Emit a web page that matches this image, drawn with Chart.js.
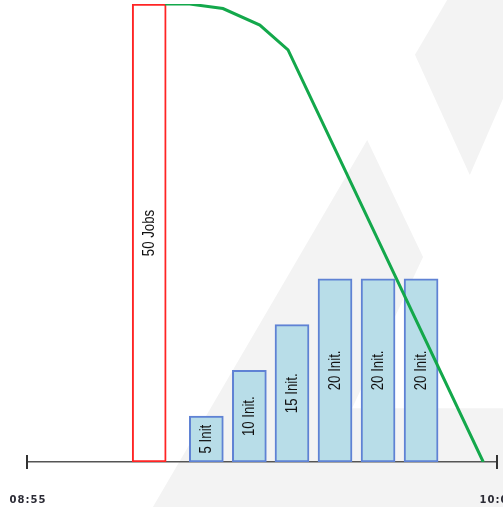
<!DOCTYPE html>
<html>
<head>
<meta charset="utf-8">
<script src="https://cdn.jsdelivr.net/npm/chart.js@4"></script>
<style>
  html, body { margin: 0; padding: 0; background: #fff; }
  #wrap { width: 503px; height: 507px; }
</style>
</head>
<body>
<div id="wrap"><canvas id="jobsChart" width="503" height="507"></canvas></div>
<script>
// minutes after 08:55
const jobMinutes = [16.9];
const jobValues = [50];
const jobLabels = ['50 Jobs'];

const initMinutes = [24.8, 30.75, 36.65, 42.6, 48.55, 54.5];
const initValues = [5, 10, 15, 20, 20, 20];
const initLabels = ['5 Init', '10 Init.', '15 Init.', '20 Init.', '20 Init.', '20 Init.'];

const remainMinutes = [19.1, 22.5, 27.1, 32.2, 36.1, 63.1];
const remainValues = [50, 50, 49.5, 47.7, 45, 0];

const tickMinutes = [0, 65];
const tickLabels = ['08:55', '10:00'];

function toPoints(xs, ys) {
    return xs.map((x, i) => ({ x: x, y: ys[i] }));
}

// grey watermark shapes behind the chart
const watermark = {
    id: 'watermark',
    beforeDraw(chart) {
        const ctx = chart.ctx;
        const w = chart.width, h = chart.height;
        ctx.save();
        ctx.fillStyle = '#f3f3f3';
        const shapes = [
            [[0.304, 1], [0.730, 0.276], [0.841, 0.507], [0.700, 0.805], [1, 0.805], [1, 1]],
            [[0.889, 0], [1, 0], [1, 0.195], [0.934, 0.345], [0.825, 0.108]]
        ];
        shapes.forEach(pts => {
            ctx.beginPath();
            pts.forEach((p, i) => {
                if (i === 0) ctx.moveTo(p[0] * w, p[1] * h);
                else ctx.lineTo(p[0] * w, p[1] * h);
            });
            ctx.closePath();
            ctx.fill();
        });
        ctx.restore();
    }
};

// rotated labels inside bars (narrow look: squeeze along the text)
const barText = {
    id: 'barText',
    afterDatasetDraw(chart, args) {
        const ds = chart.data.datasets[args.index];
        if (!ds.barLabels) return;
        const ctx = chart.ctx;
        ctx.save();
        ctx.fillStyle = '#111';
        ctx.font = "17px 'Liberation Sans', Arial, sans-serif";
        ctx.textAlign = 'center';
        ctx.textBaseline = 'middle';
        args.meta.data.forEach((bar, i) => {
            ctx.save();
            ctx.translate(bar.x, (bar.y + bar.base) / 2);
            ctx.rotate(-Math.PI / 2);
            ctx.scale(0.78, 1);
            ctx.fillText(ds.barLabels[i], 0, 0);
            ctx.restore();
        });
        ctx.restore();
    }
};

// end caps and time labels on the x axis
const axisEnds = {
    id: 'axisEnds',
    afterDraw(chart) {
        const ctx = chart.ctx;
        const xs = chart.scales.x;
        const y0 = chart.chartArea.bottom;
        ctx.save();
        ctx.strokeStyle = '#333';
        ctx.lineWidth = 2;
        ctx.fillStyle = '#2b2b35';
        ctx.font = "bold 10px 'DejaVu Sans', Verdana, sans-serif";
        if ('letterSpacing' in ctx) ctx.letterSpacing = '1px';
        ctx.textAlign = 'center';
        ctx.textBaseline = 'middle';
        tickMinutes.forEach((m, i) => {
            const px = Math.round(xs.getPixelForValue(m));
            ctx.beginPath();
            ctx.moveTo(px, y0 - 7);
            ctx.lineTo(px, y0 + 7);
            ctx.stroke();
            ctx.fillText(tickLabels[i], px + 1, y0 + 38);
        });
        ctx.restore();
    }
};

function initializeChart() {
    const ctx = document.getElementById('jobsChart').getContext('2d');
    new Chart(ctx, {
        type: 'bar',
        data: {
            datasets: [
                {
                    type: 'line',
                    label: 'Remaining',
                    data: toPoints(remainMinutes, remainValues),
                    borderColor: '#13a84b',
                    borderWidth: 3,
                    pointRadius: 0,
                    tension: 0,
                    fill: false,
                    order: 0
                },
                {
                    label: 'Jobs',
                    data: toPoints(jobMinutes, jobValues),
                    barLabels: jobLabels,
                    backgroundColor: '#ffffff',
                    borderColor: '#ff2424',
                    borderWidth: 2,
                    borderSkipped: false,
                    barThickness: 34,
                    grouped: false,
                    order: 1
                },
                {
                    label: 'Init',
                    data: toPoints(initMinutes, initValues),
                    barLabels: initLabels,
                    backgroundColor: '#b8dde8',
                    borderColor: '#5f82d4',
                    borderWidth: 2,
                    borderSkipped: false,
                    barThickness: 34,
                    grouped: false,
                    order: 1
                }
            ]
        },
        options: {
            responsive: false,
            animation: false,
            layout: { padding: { left: 27, right: 6, top: 4, bottom: 45 } },
            plugins: {
                legend: { display: false },
                tooltip: { enabled: false }
            },
            scales: {
                x: {
                    type: 'linear',
                    offset: false,
                    min: 0,
                    max: 65,
                    grid: { display: false, drawTicks: false, offset: false },
                    border: { display: true, color: '#555', width: 1.5 },
                    ticks: { display: false }
                },
                y: {
                    display: false,
                    min: 0,
                    max: 50
                }
            }
        },
        plugins: [watermark, barText, axisEnds]
    });
}

if (document.readyState === 'loading') {
    document.addEventListener('DOMContentLoaded', initializeChart);
} else {
    initializeChart();
}
</script>
</body>
</html>
